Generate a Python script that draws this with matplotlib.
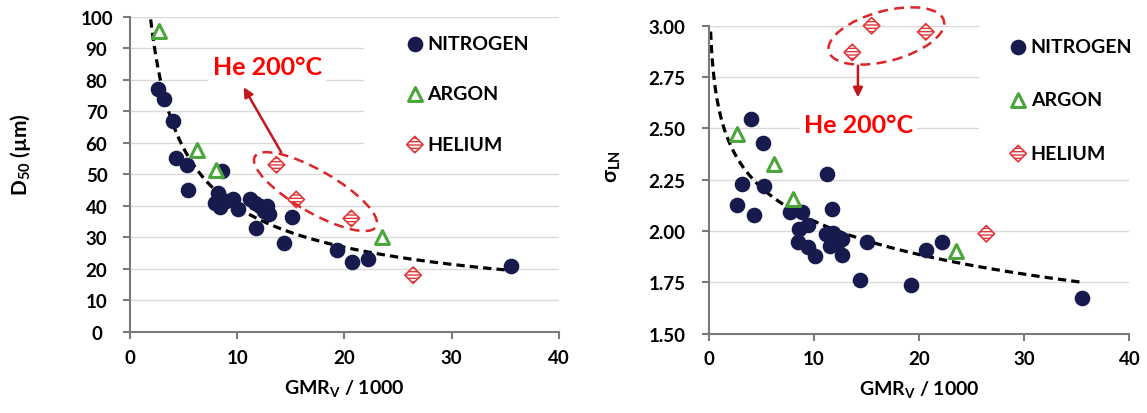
import matplotlib
matplotlib.use('Agg')
import matplotlib.pyplot as plt
import numpy as np
from matplotlib.patches import Ellipse, Rectangle
from matplotlib.transforms import ScaledTranslation

plt.rcParams['font.family'] = ['Lato', 'DejaVu Sans']
plt.rcParams['font.weight'] = 'bold'
plt.rcParams['axes.labelweight'] = 'bold'
plt.rcParams['mathtext.fontset'] = 'custom'
plt.rcParams['mathtext.rm'] = 'Lato:bold'
plt.rcParams['mathtext.it'] = 'Lato:bold'
plt.rcParams['mathtext.bf'] = 'Lato:bold'
plt.rcParams['hatch.linewidth'] = 1.0

# ---- left panel: D50 vs GMR/1000 ----
n2_x_d50 = [2.65, 3.2, 4.05, 4.3, 5.28, 5.38, 8.6, 7.9, 8.4, 8.25, 9.0, 9.6, 10.1,
            11.2, 11.65, 12.1, 12.75, 13.0, 12.5, 11.75, 15.1, 14.4, 19.3, 20.7, 22.2, 35.5]
n2_d50 = [77, 74, 67, 55, 53, 45, 51, 41, 39.5, 44, 41.5, 42, 39,
          42, 41, 40, 40, 37.5, 38.5, 33, 36.3, 28.3, 26, 22.2, 23, 21]
ar_x = [2.73, 6.27, 8.05, 23.5]
ar_d50 = [95.5, 57.7, 51.5, 30]
he_x = [13.66, 15.5, 20.65, 26.4]
he_d50 = [53, 42, 36, 18]

# ---- right panel: sigma_LN vs GMR/1000 ----
n2_x_sig = [4.05, 5.2, 3.14, 5.29, 2.67, 4.31, 11.27, 11.75, 7.73, 8.84, 8.61, 9.47, 8.52,
            9.47, 10.1, 11.15, 11.84, 11.53, 12.64, 12.73, 12.32, 15.07, 14.38, 19.22,
            20.71, 22.2, 35.5]
n2_sig = [2.547, 2.428, 2.227, 2.22, 2.128, 2.078, 2.279, 2.107, 2.091, 2.091, 2.01, 2.028, 1.948,
          1.921, 1.877, 1.986, 1.992, 1.929, 1.963, 1.885, 1.945, 1.948, 1.762, 1.737,
          1.908, 1.949, 1.674]
ar_sig = [2.475, 2.325, 2.157, 1.905]
he_sig = [2.870, 3.000, 2.970, 1.987]

x_ticks = [0, 10, 20, 30, 40]
d50_ticks = list(range(0, 101, 10))
sig_ticks = [1.5, 1.75, 2.0, 2.25, 2.5, 2.75, 3.0]

# trend lines (Excel power / log fits)
d50_fit_x = np.linspace(1.93, 35.5, 300)
d50_fit = 143 * d50_fit_x ** -0.558
sig_fit_x = np.linspace(0.2, 35.5, 400)
sig_fit = 2.592 - 0.2358 * np.log(sig_fit_x)

navy = '#161a4d'
green = '#4aa63a'
hered = '#e0383a'
axcol = '#7a7a7a'
tickfont = dict(fontsize=13.5, fontweight='bold', color='black')

fig = plt.figure(figsize=(11.47, 4.14), dpi=100)
ax1 = fig.add_axes([0.1133, 0.1957, 0.374, 0.762])
ax2 = fig.add_axes([0.6177, 0.1915, 0.367, 0.744])


def style(ax, ylabel, ypad, yticks, yfmt):
    ax.set_axisbelow(True)
    ax.grid(axis='y', color='#d9d9d9', lw=1.0)
    for s in ['top', 'right']:
        ax.spines[s].set_visible(False)
    for s in ['left', 'bottom']:
        ax.spines[s].set_color(axcol)
        ax.spines[s].set_linewidth(1.5)
    ax.tick_params(direction='out', length=5, width=1.5, color=axcol)
    ax.tick_params(axis='x', pad=7)
    ax.tick_params(axis='y', pad=ypad)
    ax.set_xlim(0, 40)
    ax.set_ylim(yticks[0], yticks[-1])
    ax.set_xticks(x_ticks, [str(v) for v in x_ticks], **tickfont)
    ax.set_yticks(yticks, [yfmt % v for v in yticks], ha='center', **tickfont)
    ax.set_xlabel('GMR$_{V}$ / 1000', fontsize=14, fontweight='bold', labelpad=8)
    ax.set_ylabel(ylabel, fontsize=15, fontweight='bold')


def draw(ax, xn, yn, xa, ya, xh, yh, fx, fy):
    ax.plot(fx, fy, color='black', lw=2.3, ls=(0, (2.6, 1.6)), zorder=2)
    ax.scatter(xn, yn, s=105, color=navy, zorder=3, label='NITROGEN', clip_on=False)
    ax.scatter(xa, ya, s=100, marker='^', facecolors='white', edgecolors=green,
               linewidths=2.2, zorder=3, label='ARGON', clip_on=False)
    ax.scatter(xh, yh, s=70, marker='D', facecolors='white', edgecolors=hered,
               linewidths=1.2, hatch='-----', zorder=3, label='HELIUM', clip_on=False)


draw(ax1, n2_x_d50, n2_d50, ar_x, ar_d50, he_x, he_d50, d50_fit_x, d50_fit)
draw(ax2, n2_x_sig, n2_sig, ar_x, ar_sig, he_x, he_sig, sig_fit_x, sig_fit)

style(ax1, 'D$_{50}$ (µm)', 19, d50_ticks, '%d')
ax1.yaxis.set_label_coords(-0.227, 0.564)
style(ax2, 'σ$_{LN}$', 25, sig_ticks, '%.2f')
ax2.yaxis.set_label_coords(-0.203, 0.544)

# white areas behind the legends (hide gridlines like the original)
ax1.add_patch(Rectangle((0.545, 0.55), 0.47, 0.43, transform=ax1.transAxes,
                        facecolor='white', edgecolor='none', zorder=1))
ax2.add_patch(Rectangle((0.642, 0.583), 0.37, 0.44, transform=ax2.transAxes,
                        facecolor='white', edgecolor='none', zorder=1, clip_on=False))

ax1.legend(loc='upper left', bbox_to_anchor=(0.646, 0.942), frameon=False,
           prop={'size': 14, 'weight': 'bold'}, handlelength=0.8,
           handletextpad=0.25, labelspacing=1.72, borderpad=0, borderaxespad=0)
ax2.legend(loc='upper left', bbox_to_anchor=(0.717, 0.959), frameon=False,
           prop={'size': 14, 'weight': 'bold'}, handlelength=0.8,
           handletextpad=0.25, labelspacing=1.86, borderpad=0, borderaxespad=0)

# He 200°C annotations
ell_col = '#dd2428'
arr_col = '#c4161c'
e1 = Ellipse((0, 0), 1.40, 0.42, angle=-30, fill=False, ec=ell_col, lw=1.8, ls=(0, (4, 2.5)),
             transform=fig.dpi_scale_trans + ScaledTranslation(17.3, 44.5, ax1.transData),
             zorder=4)
ax1.add_patch(e1)
e2 = Ellipse((0, 0), 1.19, 0.50, angle=15, fill=False, ec=ell_col, lw=1.8, ls=(0, (4, 2.5)),
             transform=fig.dpi_scale_trans + ScaledTranslation(16.9, 2.950, ax2.transData),
             zorder=4, clip_on=False)
ax2.add_patch(e2)

ax1.annotate('', xy=(10.6, 77.6), xytext=(14.1, 57.0),
             arrowprops=dict(arrowstyle='-|>', color=arr_col, lw=1.8,
                             mutation_scale=14, shrinkA=0, shrinkB=0), zorder=4)
ax2.annotate('', xy=(14.2, 2.651), xytext=(14.2, 2.805),
             arrowprops=dict(arrowstyle='-|>', color=arr_col, lw=1.8,
                             mutation_scale=14, shrinkA=0, shrinkB=0), zorder=4)

ax1.text(12.8, 84.0, 'He 200°C', color='#ff0000', fontsize=18, fontweight='bold',
         ha='center', va='center',
         bbox=dict(facecolor='white', edgecolor='none', pad=3), zorder=4)
ax2.text(14.25, 2.52, 'He 200°C', color='#ff0000', fontsize=18, fontweight='bold',
         ha='center', va='center',
         bbox=dict(facecolor='white', edgecolor='none', pad=3), zorder=4)

fig.savefig('out.png', dpi=100)
